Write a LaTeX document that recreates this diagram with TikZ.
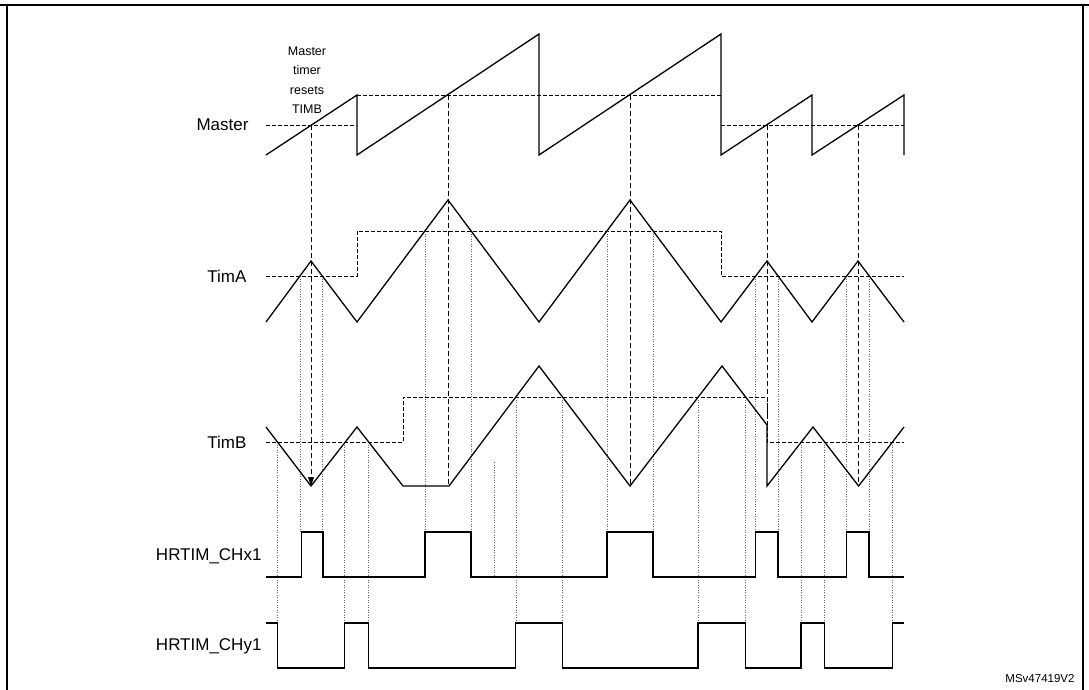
\documentclass[tikz,border=0pt]{standalone}
\usepackage{fontspec}
\setmainfont{Liberation Sans}
\usetikzlibrary{arrows.meta}
\begin{document}
\begin{tikzpicture}[x=1pt,y=-1pt,
  sig/.style={line width=1.3pt,line join=miter},
  cmp/.style={dashed,line width=0.8pt,dash pattern=on 4pt off 2pt},
  vd/.style={dashed,line width=0.6pt,dash pattern=on 5pt off 3pt},
  dt/.style={dotted,line width=0.5pt,gray!80!black},
  lab/.style={font=\fontsize{17}{19}\selectfont,anchor=east}]
\useasboundingbox (0,0) rectangle (1089,690);
\draw[line width=1.5pt] (0,5) -- (1089,5);
\draw[line width=1.2pt] (7,5) -- (7,690);
\draw[line width=1.2pt] (1083,5) -- (1083,690);
% labels
\node[lab] (lm) at (252,125) {Master};
\node[lab] (la) at (250,276) {TimA};
\node[lab] (lb) at (250,442) {TimB};
\node[lab] (lx) at (265,556) {HRTIM\_CHx1};
\node[lab] (ly) at (265,646) {HRTIM\_CHy1};
\node[font=\fontsize{12.5}{19.5}\selectfont,align=center] (note) at (307,80) {Master\\timer\\resets\\TIMB};
\node[font=\fontsize{11.5}{13}\selectfont] (ms) at (1040,679) {MSv47419V2};
% compare levels
\draw[cmp] (266,125) -- (357,125);
\draw[cmp] (357,95) -- (721,95);
\draw[cmp] (721,125) -- (904,125);
\draw[cmp] (266,276) -- (357,276) -- (357,231) -- (721,231) -- (721,276) -- (904,276);
\draw[cmp] (266,442) -- (403,442) -- (403,397) -- (767,397) -- (767,442) -- (904,442);
% dotted verticals
\foreach \x/\y in {300/276,322/276,755.7/276,778/276,846.7/276,869/276,425/231,471/231,607/231,653/231}
  \draw[dt] (\x,\y) -- (\x,532);
\foreach \x/\y in {277.4/442,344.6/442,368.7/442,801/442,824.4/442,892.5/442,515.8/397,562.5/397,698/397,745.6/397}
  \draw[dt] (\x,\y) -- (\x,623);
\draw[dt] (494,462) -- (494,577);
% vertical dashed
\draw[vd,-{Triangle[length=9pt,width=6pt]}] (311,125) -- (311,486);
\draw[vd] (448,95) -- (448,486);
\draw[vd] (630,95) -- (630,486);
\draw[vd] (767,125) -- (767,427);
\draw[vd] (858,125) -- (858,486);
% Master
\draw[sig] (266,155) -- (357,95) -- (357,155) -- (539,34) -- (539,155) -- (721,34) -- (721,155) -- (812,95) -- (812,155) -- (904,95) -- (904,155);
% TimA
\draw[sig] (266,322) -- (311,261) -- (357,322) -- (448,200) -- (539,322) -- (630,200) -- (721,322) -- (767,261) -- (812,322) -- (858,261) -- (904,322);
% TimB
\draw[sig] (266,427) -- (311,486) -- (357,427) -- (403,486) -- (449,486) -- (539,366) -- (630,486) -- (722,366) -- (767,425) -- (767,486) -- (813,427) -- (858.6,486) -- (904,427);
% CHx1
\draw[sig] (266,577) -- (301.5,577) -- (301.5,532) -- (323,532) -- (323,577) -- (425,577) -- (425,532) -- (471,532) -- (471,577) -- (607,577) -- (607,532) -- (653,532) -- (653,577) -- (755.7,577) -- (755.7,532) -- (778,532) -- (778,577) -- (846.7,577) -- (846.7,532) -- (869,532) -- (869,577) -- (904,577);
% CHy1
\draw[sig] (266,623) -- (277.4,623) -- (277.4,668) -- (344.6,668) -- (344.6,623) -- (368.7,623) -- (368.7,668) -- (515.8,668) -- (515.8,623) -- (562.5,623) -- (562.5,668) -- (698,668) -- (698,623) -- (745.6,623) -- (745.6,668) -- (801,668) -- (801,623) -- (824.4,623) -- (824.4,668) -- (892.5,668) -- (892.5,623) -- (904,623);
\end{tikzpicture}
\end{document}
